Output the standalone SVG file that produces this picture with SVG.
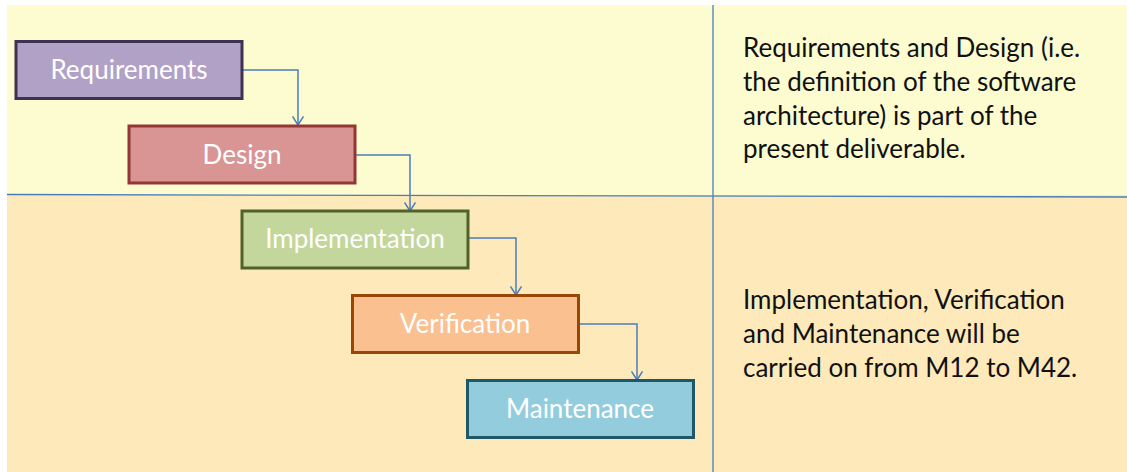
<svg xmlns="http://www.w3.org/2000/svg" width="1127" height="472" viewBox="0 0 1127 472">
<style>
.box{stroke-width:3}
.lbl{font-family:Lato,"Open Sans","Liberation Sans",sans-serif;font-size:26px;fill:#ffffff;text-anchor:middle}
.note{font-family:Lato,"Open Sans","Liberation Sans",sans-serif;font-size:26px;fill:#111111}
.conn{fill:none;stroke:#4a7ebb;stroke-width:1.5}
.sep{stroke:#4a7ebb;stroke-width:1.3;fill:none}
</style>
<defs>
<marker id="arr" viewBox="0 0 10 12" refX="9.5" refY="6" markerWidth="10" markerHeight="12" markerUnits="userSpaceOnUse" orient="auto">
<path d="M1,0.5 L9.5,6 L1,11.5" fill="none" stroke="#4a7ebb" stroke-width="1.5"/>
</marker>
</defs>
<rect x="0" y="0" width="1127" height="472" fill="#ffffff"/>
<rect x="7" y="5" width="1120" height="190" fill="#fcfcd0"/>
<rect x="7" y="195" width="1120" height="277" fill="#fde9ba"/>
<g id="separators">
<path class="sep" d="M7,194.5 L1127,197"/>
<path class="sep" d="M713,5 L713,472"/>
</g>
<g id="connectors">
<path class="conn" d="M242,70 H298 V125" marker-end="url(#arr)"/>
<path class="conn" d="M355,155 H410 V211" marker-end="url(#arr)"/>
<path class="conn" d="M460,238 H516 V295" marker-end="url(#arr)"/>
<path class="conn" d="M580,324 H637 V380" marker-end="url(#arr)"/>
</g>
<g id="requirements">
<rect class="box" x="16" y="41.5" width="226" height="57" fill="#b2a1c7" stroke="#3f3151"/>
<text class="lbl" x="129" y="79">Requirements</text>
</g>
<g id="design">
<rect class="box" x="129" y="126" width="226" height="57" fill="#d99594" stroke="#943634"/>
<text class="lbl" x="242" y="164">Design</text>
</g>
<g id="implementation">
<rect class="box" x="242" y="211" width="226" height="57" fill="#c3d69b" stroke="#4f6228"/>
<text class="lbl" x="355" y="248">Implementation</text>
</g>
<g id="verification">
<rect class="box" x="352.5" y="295.5" width="226" height="57" fill="#fac090" stroke="#974806"/>
<text class="lbl" x="465" y="333">Verification</text>
</g>
<g id="maintenance">
<rect class="box" x="467.5" y="380.5" width="226" height="57" fill="#93cddd" stroke="#215867"/>
<text class="lbl" x="580" y="418">Maintenance</text>
</g>
<g id="note-top">
<text class="note" x="743" y="57">Requirements and Design (i.e.</text>
<text class="note" x="743" y="91">the definition of the software</text>
<text class="note" x="743" y="125">architecture) is part of the</text>
<text class="note" x="743" y="158">present deliverable.</text>
</g>
<g id="note-bottom">
<text class="note" x="743" y="309">Implementation, Verification</text>
<text class="note" x="743" y="343">and Maintenance will be</text>
<text class="note" x="743" y="377">carried on from M12 to M42.</text>
</g>
</svg>
